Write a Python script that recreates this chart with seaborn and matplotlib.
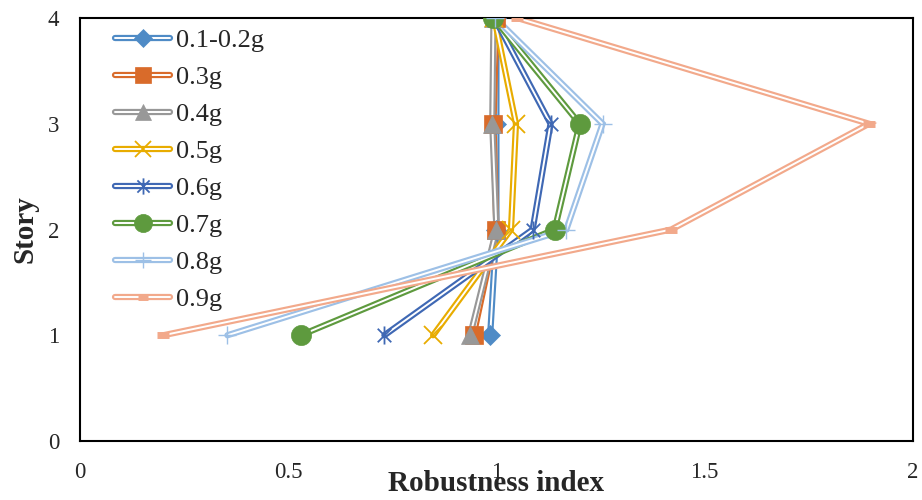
import matplotlib
matplotlib.use("Agg")
import matplotlib.pyplot as plt
import seaborn as sns
import numpy as np
import pandas as pd
from matplotlib.lines import Line2D
from matplotlib.path import Path
from matplotlib.legend_handler import HandlerTuple

stories = [1, 2, 3, 4]
labels = ["0.1-0.2g", "0.3g", "0.4g", "0.5g", "0.6g", "0.7g", "0.8g", "0.9g"]
s_01_02 = [0.985, 1.0, 1.0, 1.0]
s_03 = [0.945, 1.0, 0.993, 1.0]
s_04 = [0.937, 1.0, 0.99, 0.993]
s_05 = [0.848, 1.035, 1.047, 0.995]
s_06 = [0.731, 1.087, 1.13, 0.995]
s_07 = [0.53, 1.14, 1.2, 0.993]
s_08 = [0.354, 1.168, 1.255, 0.997]
s_09 = [0.2, 1.42, 1.895, 1.05]
series = [s_01_02, s_03, s_04, s_05, s_06, s_07, s_08, s_09]
xticks = [0, 0.5, 1, 1.5, 2]
xticklabels = ["0", "0.5", "1", "1.5", "2"]
yticks = [0, 1, 2, 3, 4]

colors = ["#4F8BC6", "#D96B2A", "#989898", "#E8AC00", "#3F68B4", "#5E9A3E", "#9DC0E6", "#F2A98B"]
star = Path([(0, -1), (0, 1), (-0.75, -0.75), (0.75, 0.75), (-0.75, 0.75), (0.75, -0.75)],
            [Path.MOVETO, Path.LINETO, Path.MOVETO, Path.LINETO, Path.MOVETO, Path.LINETO])
markers = ["D", "s", "^", "x", star, "o", "+", "_"]
msizes = [10, 13, 13, 13, 13, 14.5, 13, 8]
mews = [0.5, 0.5, 0.5, 1.3, 1.3, 0.5, 1.0, 5]

sns.set_style("white")
plt.rcParams["font.family"] = ["Liberation Serif", "DejaVu Serif"]

fig, ax = plt.subplots(figsize=(9.22, 5.0), dpi=100)
fig.subplots_adjust(left=0.0868, right=0.990, top=0.964, bottom=0.118)

handles = []
for lab, vals, c, m, ms, mew in zip(labels, series, colors, markers, msizes, mews):
    df = pd.DataFrame({"x": vals, "y": stories})
    sns.lineplot(data=df, x="x", y="y", orient="y", color=c, lw=4.5, ax=ax,
                 solid_capstyle="round", solid_joinstyle="miter", zorder=2)
    sns.lineplot(data=df, x="x", y="y", orient="y", color="white", lw=1.4, ax=ax,
                 solid_capstyle="round", zorder=2)
    sns.lineplot(data=df, x="x", y="y", orient="y", color=c, lw=0, ax=ax,
                 marker=m, markersize=ms, markeredgewidth=mew,
                 markeredgecolor=c, markerfacecolor=c, zorder=3)
    h1 = Line2D([], [], color=c, lw=4.5, solid_capstyle="round")
    h2 = Line2D([], [], color="white", lw=1.4, solid_capstyle="round")
    h3 = Line2D([], [], color=c, lw=0, marker=m, markersize=ms * 0.9,
                markeredgewidth=mew, markeredgecolor=c, markerfacecolor=c)
    handles.append((h1, h2, h3))

ax.set_xlim(0, 2)
ax.set_ylim(0, 4)
ax.set_xticks(xticks)
ax.set_xticklabels(xticklabels)
ax.set_yticks(yticks)
ax.tick_params(axis="x", length=0, pad=15, labelsize=16.5)
ax.tick_params(axis="y", length=0, pad=15, labelsize=16.5)
for sp in ax.spines.values():
    sp.set_color("black")
    sp.set_linewidth(1.5)
    sp.set_visible(True)

ax.set_xlabel("Robustness index", fontsize=21, fontweight="bold")
ax.set_ylabel("Story", fontsize=21, fontweight="bold")
ax.xaxis.set_label_coords(0.5, -0.1)
ax.xaxis.label.set_va("center")
ax.yaxis.set_label_coords(-0.066, 0.5)
ax.yaxis.label.set_va("center")

leg = ax.legend(handles, labels, handler_map={tuple: HandlerTuple(ndivide=1)},
                loc="upper left", bbox_to_anchor=(0.042, 0.974), frameon=False,
                fontsize=19, handlelength=2.1, handletextpad=0.23,
                labelspacing=0.51, borderpad=0, borderaxespad=0)

fig.savefig("out.png", dpi=100)
